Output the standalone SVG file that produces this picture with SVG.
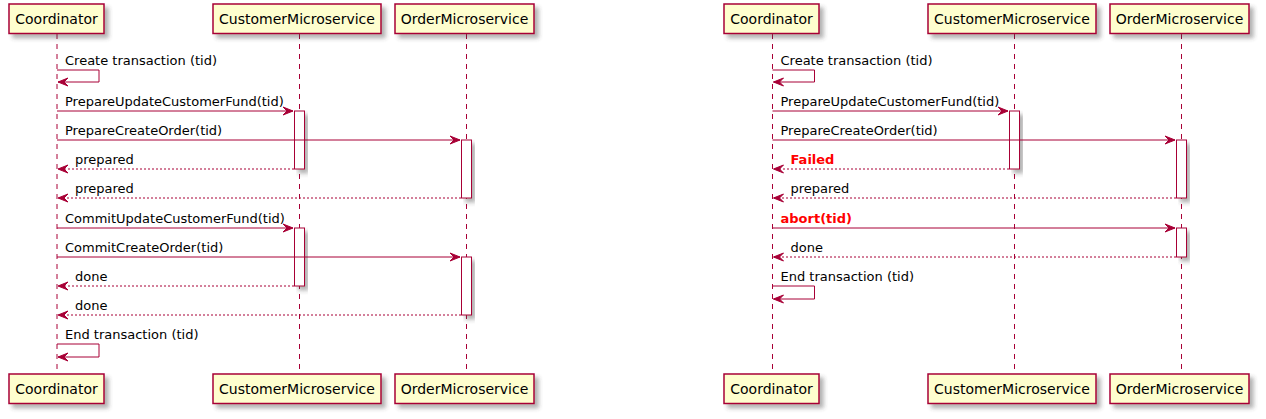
<svg xmlns="http://www.w3.org/2000/svg" width="1266" height="419" viewBox="0 0 1266 419">
<defs>
<filter id="sh" x="-20%" y="-20%" width="150%" height="150%">
<feGaussianBlur in="SourceAlpha" stdDeviation="2" result="b"/>
<feOffset in="b" dx="4" dy="4" result="o"/>
<feComponentTransfer in="o" result="s"><feFuncA type="linear" slope="0.4"/></feComponentTransfer>
<feFlood flood-color="#404040" result="c"/>
<feComposite in="c" in2="s" operator="in" result="cs"/>
<feMerge><feMergeNode in="cs"/><feMergeNode in="SourceGraphic"/></feMerge>
</filter>
</defs>
<style>
.box{fill:#FEFECE;stroke:#A80036;stroke-width:1.5;filter:url(#sh);}
.act{fill:#FFFFFF;stroke:#A80036;stroke-width:1;filter:url(#sh);}
.life{stroke:#A80036;stroke-width:1;stroke-dasharray:5,5;fill:none;}
.msg{stroke:#A80036;stroke-width:1;fill:none;}
.ret{stroke:#A80036;stroke-width:1;stroke-dasharray:2,2;fill:none;}
.ah{fill:#A80036;stroke:#A80036;stroke-width:1;}
.pt{font-family:"DejaVu Sans",sans-serif;font-size:14px;fill:#000000;text-anchor:middle;}
.mt{font-family:"DejaVu Sans",sans-serif;font-size:13px;fill:#000000;}
.red{font-family:"DejaVu Sans",sans-serif;font-size:13px;fill:#FF0000;font-weight:bold;}
</style>

<g id="lifelines">
<line class="life" x1="57" y1="34" x2="57" y2="374"/>
<line class="life" x1="299.5" y1="34" x2="299.5" y2="374"/>
<line class="life" x1="466.5" y1="34" x2="466.5" y2="374"/>
<line class="life" x1="772.5" y1="34" x2="772.5" y2="374"/>
<line class="life" x1="1014.5" y1="34" x2="1014.5" y2="374"/>
<line class="life" x1="1181.5" y1="34" x2="1181.5" y2="374"/>
</g>

<g id="left-participants">
<g id="L-Coordinator-top"><rect class="box" x="9" y="4" width="95" height="29.5"/><text class="pt" x="56.5" y="23.5">Coordinator</text></g>
<g id="L-Customer-top"><rect class="box" x="213" y="4" width="168" height="29.5"/><text class="pt" x="297" y="23.5">CustomerMicroservice</text></g>
<g id="L-Order-top"><rect class="box" x="395" y="4" width="139" height="29.5"/><text class="pt" x="464.5" y="23.5">OrderMicroservice</text></g>
<g id="L-Coordinator-bottom"><rect class="box" x="9" y="374" width="95" height="29.5"/><text class="pt" x="56.5" y="393.5">Coordinator</text></g>
<g id="L-Customer-bottom"><rect class="box" x="213" y="374" width="168" height="29.5"/><text class="pt" x="297" y="393.5">CustomerMicroservice</text></g>
<g id="L-Order-bottom"><rect class="box" x="395" y="374" width="139" height="29.5"/><text class="pt" x="464.5" y="393.5">OrderMicroservice</text></g>
</g>

<g id="right-participants">
<g id="R-Coordinator-top"><rect class="box" x="724" y="4" width="95" height="29.5"/><text class="pt" x="771.5" y="23.5">Coordinator</text></g>
<g id="R-Customer-top"><rect class="box" x="928" y="4" width="168" height="29.5"/><text class="pt" x="1012" y="23.5">CustomerMicroservice</text></g>
<g id="R-Order-top"><rect class="box" x="1110" y="4" width="139" height="29.5"/><text class="pt" x="1179.5" y="23.5">OrderMicroservice</text></g>
<g id="R-Coordinator-bottom"><rect class="box" x="724" y="374" width="95" height="29.5"/><text class="pt" x="771.5" y="393.5">Coordinator</text></g>
<g id="R-Customer-bottom"><rect class="box" x="928" y="374" width="168" height="29.5"/><text class="pt" x="1012" y="393.5">CustomerMicroservice</text></g>
<g id="R-Order-bottom"><rect class="box" x="1110" y="374" width="139" height="29.5"/><text class="pt" x="1179.5" y="393.5">OrderMicroservice</text></g>
</g>

<g id="activations">
<rect class="act" x="294.5" y="111" width="10" height="58"/>
<rect class="act" x="461.5" y="140" width="10" height="58"/>
<rect class="act" x="294.5" y="228" width="10" height="58"/>
<rect class="act" x="461.5" y="257" width="10" height="58"/>
<rect class="act" x="1009.5" y="111" width="10" height="58"/>
<rect class="act" x="1176.5" y="140" width="10" height="58"/>
<rect class="act" x="1176.5" y="228" width="10" height="29"/>
</g>

<g id="connectors">
<polyline class="msg" points="57,70 99,70 99,82 58,82"/>
<polygon class="ah" points="68,78 58,82 68,86 64,82"/>
<text class="mt" x="65" y="64.5">Create transaction (tid)</text>

<line class="msg" x1="57" y1="111" x2="293" y2="111"/>
<polygon class="ah" points="283,107 293,111 283,115 287,111"/>
<text class="mt" x="65" y="105.5">PrepareUpdateCustomerFund(tid)</text>

<line class="msg" x1="57" y1="140" x2="460" y2="140"/>
<polygon class="ah" points="450,136 460,140 450,144 454,140"/>
<text class="mt" x="65" y="134.5">PrepareCreateOrder(tid)</text>

<line class="ret" x1="294" y1="169" x2="58" y2="169"/>
<polygon class="ah" points="68,165 58,169 68,173 64,169"/>
<text class="mt" x="75" y="163.5">prepared</text>

<line class="ret" x1="461" y1="198" x2="58" y2="198"/>
<polygon class="ah" points="68,194 58,198 68,202 64,198"/>
<text class="mt" x="75" y="192.5">prepared</text>

<line class="msg" x1="57" y1="228" x2="293" y2="228"/>
<polygon class="ah" points="283,224 293,228 283,232 287,228"/>
<text class="mt" x="65" y="222.5">CommitUpdateCustomerFund(tid)</text>

<line class="msg" x1="57" y1="257" x2="460" y2="257"/>
<polygon class="ah" points="450,253 460,257 450,261 454,257"/>
<text class="mt" x="65" y="251.5">CommitCreateOrder(tid)</text>

<line class="ret" x1="294" y1="286" x2="58" y2="286"/>
<polygon class="ah" points="68,282 58,286 68,290 64,286"/>
<text class="mt" x="75" y="280.5">done</text>

<line class="ret" x1="461" y1="315" x2="58" y2="315"/>
<polygon class="ah" points="68,311 58,315 68,319 64,315"/>
<text class="mt" x="75" y="309.5">done</text>

<polyline class="msg" points="57,344 99,344 99,357 58,357"/>
<polygon class="ah" points="68,353 58,357 68,361 64,357"/>
<text class="mt" x="65" y="338.5">End transaction (tid)</text>

<polyline class="msg" points="772.5,70 814.5,70 814.5,82 773.5,82"/>
<polygon class="ah" points="783.5,78 773.5,82 783.5,86 779.5,82"/>
<text class="mt" x="780.5" y="64.5">Create transaction (tid)</text>

<line class="msg" x1="772.5" y1="111" x2="1008" y2="111"/>
<polygon class="ah" points="998,107 1008,111 998,115 1002,111"/>
<text class="mt" x="780.5" y="105.5">PrepareUpdateCustomerFund(tid)</text>

<line class="msg" x1="772.5" y1="140" x2="1175" y2="140"/>
<polygon class="ah" points="1165,136 1175,140 1165,144 1169,140"/>
<text class="mt" x="780.5" y="134.5">PrepareCreateOrder(tid)</text>

<line class="ret" x1="1009" y1="169" x2="773.5" y2="169"/>
<polygon class="ah" points="783.5,165 773.5,169 783.5,173 779.5,169"/>
<text class="red" x="790.5" y="163.5">Failed</text>

<line class="ret" x1="1176" y1="198" x2="773.5" y2="198"/>
<polygon class="ah" points="783.5,194 773.5,198 783.5,202 779.5,198"/>
<text class="mt" x="790.5" y="192.5">prepared</text>

<line class="msg" x1="772.5" y1="228" x2="1175" y2="228"/>
<polygon class="ah" points="1165,224 1175,228 1165,232 1169,228"/>
<text class="red" x="780.5" y="222.5">abort(tid)</text>

<line class="ret" x1="1176" y1="257" x2="773.5" y2="257"/>
<polygon class="ah" points="783.5,253 773.5,257 783.5,261 779.5,257"/>
<text class="mt" x="790.5" y="251.5">done</text>

<polyline class="msg" points="772.5,286 814.5,286 814.5,299 773.5,299"/>
<polygon class="ah" points="783.5,295 773.5,299 783.5,303 779.5,299"/>
<text class="mt" x="780.5" y="280.5">End transaction (tid)</text>
</g>
</svg>
